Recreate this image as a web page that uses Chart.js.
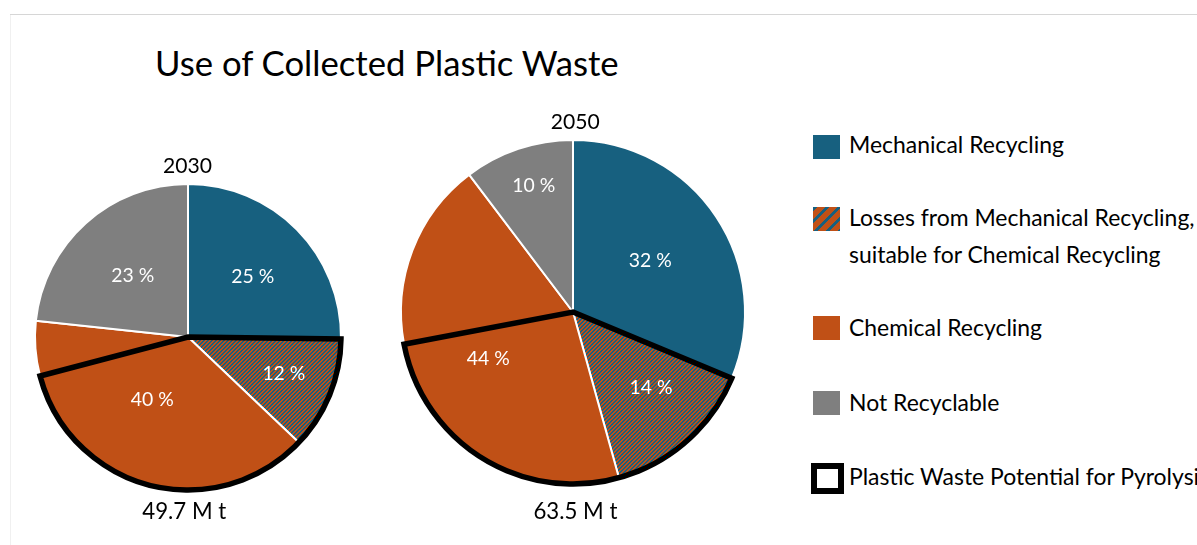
<!DOCTYPE html>
<html><head><meta charset="utf-8">
<script src="https://cdn.jsdelivr.net/npm/chart.js@4.4.1/dist/chart.umd.min.js"></script>
<style>
html,body{margin:0;padding:0;background:#fff;}
body{width:1197px;height:545px;overflow:hidden;position:relative;font-family:Lato,'Open Sans',sans-serif;color:#000;}
.frame-top{position:absolute;left:10px;top:14px;width:1187px;height:1px;background:#d6d6d6}
.frame-left{position:absolute;left:10px;top:15px;width:1px;height:530px;background:#f0f0f0}
.t{position:absolute;white-space:nowrap;line-height:1;}
canvas.pie{position:absolute}
.sw{position:absolute;box-sizing:border-box}
</style></head><body>
<div class="frame-top"></div><div class="frame-left"></div>
<canvas class="pie" id="pie2030" width="350" height="350" style="left:13px;top:162px"></canvas>
<canvas class="pie" id="pie2050" width="370" height="370" style="left:388px;top:127px"></canvas>
<script>
// ---------- data ----------
const title = 'Use of Collected Plastic Waste';
const years = ['2030', '2050'];
const totals = ['49.7 M t', '63.5 M t'];
const sliceNames = ['Mechanical Recycling', 'Losses from Mechanical Recycling', 'Chemical Recycling (pyrolysis)', 'Chemical Recycling (other)', 'Not Recyclable'];
const slices2030 = [25.2, 11.9, 33.8, 5.8, 23.3];
const slices2050 = [31.3, 14.4, 26.3, 17.7, 10.3];
const shares2030 = [25, 12, 40, 23];   // printed: mechanical, losses, chemical, not recyclable
const shares2050 = [32, 14, 44, 10];
const legendLabels = ['Mechanical Recycling', 'Losses from Mechanical Recycling,\nsuitable for Chemical Recycling', 'Chemical Recycling', 'Not Recyclable', 'Plastic Waste Potential for Pyrolysis'];

// ---------- style ----------
const BLUE = '#17607F', ORANGE = '#C05016', GREY = '#7F7F7F';
const labelGroups = [[0], [1], [2, 3], [4]];
const pyrolysisSlices = [1, 2];
const FONT = 'Lato';

const mc = document.createElement('canvas').getContext('2d');
function fitSize(text, target) { mc.font = '100px ' + FONT; return 100 * target / mc.measureText(text).width; }
function addText(text, x, baseline, size, center) {
  const d = document.createElement('div'); d.className = 't'; d.textContent = text;
  d.style.fontSize = size + 'px'; d.style.top = (baseline - 0.887 * size) + 'px'; d.style.left = x + 'px';
  if (center) d.style.transform = 'translateX(-50%)';
  document.body.appendChild(d); return d;
}

function makeHatch() {
  const p = document.createElement('canvas'); p.width = 4; p.height = 4;
  const g = p.getContext('2d'); const img = g.createImageData(4, 4);
  const c1 = [23, 96, 127], c2 = [192, 80, 22];
  for (let y = 0; y < 4; y++) for (let x = 0; x < 4; x++) {
    const c = ((x + y) % 4) < 2 ? c1 : c2; const i = (y * 4 + x) * 4;
    img.data[i] = c[0]; img.data[i + 1] = c[1]; img.data[i + 2] = c[2]; img.data[i + 3] = 255;
  }
  g.putImageData(img, 0, 0);
  return mc.createPattern(p, 'repeat');
}
const hatch = makeHatch();

const pctSize = fitSize('25 %', 43);

const overlay = {
  id: 'overlay',
  afterDatasetsDraw(chart, args, opts) {
    const ctx = chart.ctx; const arcs = chart.getDatasetMeta(0).data;
    // pyrolysis potential outline
    const a = arcs[pyrolysisSlices[0]], b = arcs[pyrolysisSlices[pyrolysisSlices.length - 1]];
    ctx.save();
    ctx.beginPath(); ctx.moveTo(a.x, a.y);
    ctx.arc(a.x, a.y, a.outerRadius, a.startAngle, b.endAngle);
    ctx.closePath();
    ctx.lineWidth = 5.5; ctx.strokeStyle = '#000'; ctx.lineJoin = 'miter'; ctx.stroke();
    // percentage labels
    ctx.fillStyle = '#fff'; ctx.font = pctSize + 'px ' + FONT; ctx.textAlign = 'center'; ctx.textBaseline = 'alphabetic';
    labelGroups.forEach((grp, k) => {
      const s = arcs[grp[0]], e = arcs[grp[grp.length - 1]];
      const mid = (s.startAngle + e.endAngle) / 2 + (opts.turn[k] || 0) * Math.PI / 180;
      const r = s.outerRadius * opts.fracs[k];
      const x = s.x + Math.cos(mid) * r, y = s.y + Math.sin(mid) * r;
      ctx.fillText(opts.shares[k] + ' %', x, y + 0.358 * pctSize);
    });
    ctx.restore();
  }
};

function makePie(id, values, shares, radius, fracs, turn) {
  return new Chart(document.getElementById(id), {
    type: 'pie',
    data: { labels: sliceNames, datasets: [{ data: values, backgroundColor: [BLUE, hatch, ORANGE, ORANGE, GREY], borderColor: '#fff', borderWidth: 2 }] },
    options: {
      responsive: false, animation: false, events: [], radius: radius,
      layout: { padding: 0 },
      plugins: { legend: { display: false }, tooltip: { enabled: false }, overlay: { shares: shares, fracs: fracs, turn: turn } }
    },
    plugins: [overlay]
  });
}
makePie('pie2030', slices2030, shares2030, 153, [0.58, 0.67, 0.47, 0.54], [1.5, -1.4, 5, 0]);
makePie('pie2050', slices2050, shares2050, 172, [0.54, 0.63, 0.56, 0.77], [0, -4.7, -2, 1.3]);

// ---------- texts ----------
addText(title, 155, 77, fitSize(title, 465), false);
const ySize = fitSize(years[0], 49);
addText(years[0], 187.5, 172.3, ySize, true);
addText(years[1], 575.3, 128.3, ySize, true);
const tSize = fitSize(totals[0], 84);
addText(totals[0], 184.3, 520, tSize, true);
addText(totals[1], 575.4, 520, tSize, true);

// ---------- legend ----------
const lSize = fitSize(legendLabels[0], 215);
const legendBaselines = [[153.3], [226.7, 263.3], [336.7], [411], [485.7]];
legendLabels.forEach((lab, i) => lab.split('\n').forEach((line, j) => addText(line, 849, legendBaselines[i][j], lSize, false)));
const swTops = [135, 207, 316, 391];
const swFills = [BLUE, 'repeating-linear-gradient(135deg,' + BLUE + ' 0 3.2px,' + ORANGE + ' 3.2px 8.5px)', ORANGE, GREY];
swTops.forEach((t, i) => {
  const d = document.createElement('div'); d.className = 'sw';
  d.style.cssText = 'left:813px;top:' + t + 'px;width:27px;height:24px;background:' + swFills[i];
  document.body.appendChild(d);
});
const pb = document.createElement('div'); pb.className = 'sw';
pb.style.cssText = 'left:811px;top:463px;width:33px;height:31px;border:6.5px solid #000;background:#fff';
document.body.appendChild(pb);
</script>
</body></html>
